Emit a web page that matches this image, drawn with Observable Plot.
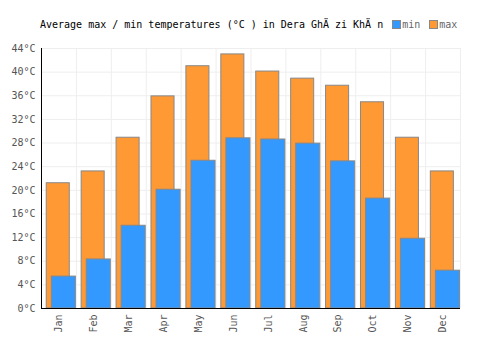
<!DOCTYPE html>
<html>
<head>
<meta charset="utf-8">
<script src="https://cdn.jsdelivr.net/npm/d3@7"></script>
<script src="https://cdn.jsdelivr.net/npm/@observablehq/plot@0.6"></script>
<style>
  body { margin: 0; background: #fff; font-family: "DejaVu Sans Mono", monospace; }
  #wrap { position: relative; width: 500px; height: 350px; }
  #title { position: absolute; top: 19px; left: 40px; font-size: 10px; color: #000; white-space: pre; }
  .leg { display: inline-block; width: 7px; height: 7px; border: 1px solid #888; vertical-align: -1px; margin-left: 9px; margin-right: 1px; }
  .legt { color: #666; }
  #chart { position: absolute; top: 36px; left: 0; }
</style>
</head>
<body>
<div id="wrap">
  <div id="title">Average max / min temperatures (°C ) in Dera GhÄ zi KhÄ n<span class="leg" style="background:#3399ff"></span><span class="legt">min</span><span class="leg" style="background:#ff9933"></span><span class="legt">max</span></div>
  <div id="chart"></div>
</div>
<script>
const months = ["Jan","Feb","Mar","Apr","May","Jun","Jul","Aug","Sep","Oct","Nov","Dec"];
const maxTemps = [21.2, 23.2, 28.9, 35.9, 41.0, 43.0, 40.1, 38.9, 37.7, 34.9, 28.9, 23.2];
const minTemps = [5.4, 8.3, 14.0, 20.1, 25.0, 28.8, 28.6, 27.9, 24.9, 18.6, 11.8, 6.4];
const yTicks = [0, 4, 8, 12, 16, 20, 24, 28, 32, 36, 40, 44];

const data = months.map((m, i) => ({ i, month: m, max: maxTemps[i], min: minTemps[i] }));

const chart = Plot.plot({
  width: 500,
  height: 314,
  marginLeft: 41,
  marginRight: 40,
  marginTop: 12,
  marginBottom: 42,
  style: { fontFamily: "DejaVu Sans Mono, monospace", fontSize: "10px", background: "#fff" },
  x: { domain: [0, 12], axis: null },
  y: { domain: [0, 44], axis: null },
  marks: [
    Plot.ruleY(yTicks, { stroke: "#eeeeee" }),
    Plot.ruleX(d3.range(0, 13), { stroke: "#eeeeee" }),
    Plot.rectY(data, { x1: d => d.i + 0.15, x2: d => d.i + 0.81, y1: 0, y2: "max", fill: "#ff9933", stroke: "#888888", strokeWidth: 1 }),
    Plot.rectY(data, { x1: d => d.i + 0.295, x2: d => d.i + 0.985, y1: 0, y2: "min", fill: "#3399ff", stroke: "#888888", strokeWidth: 1 }),
    Plot.axisY(yTicks, { tickSize: 0, tickPadding: 6, tickFormat: d => `${d}°C`, fill: "#555", fontSize: 10 }),
    Plot.axisX(data.map(d => d.i + 0.5), { tickSize: 0, tickPadding: 6, tickRotate: -90, tickFormat: d => months[Math.floor(d)], fill: "#555", fontSize: 10 }),
    Plot.ruleX([0], { stroke: "#000" }),
    Plot.ruleY([0], { stroke: "#000" })
  ]
});
document.getElementById("chart").appendChild(chart);
</script>
</body>
</html>
